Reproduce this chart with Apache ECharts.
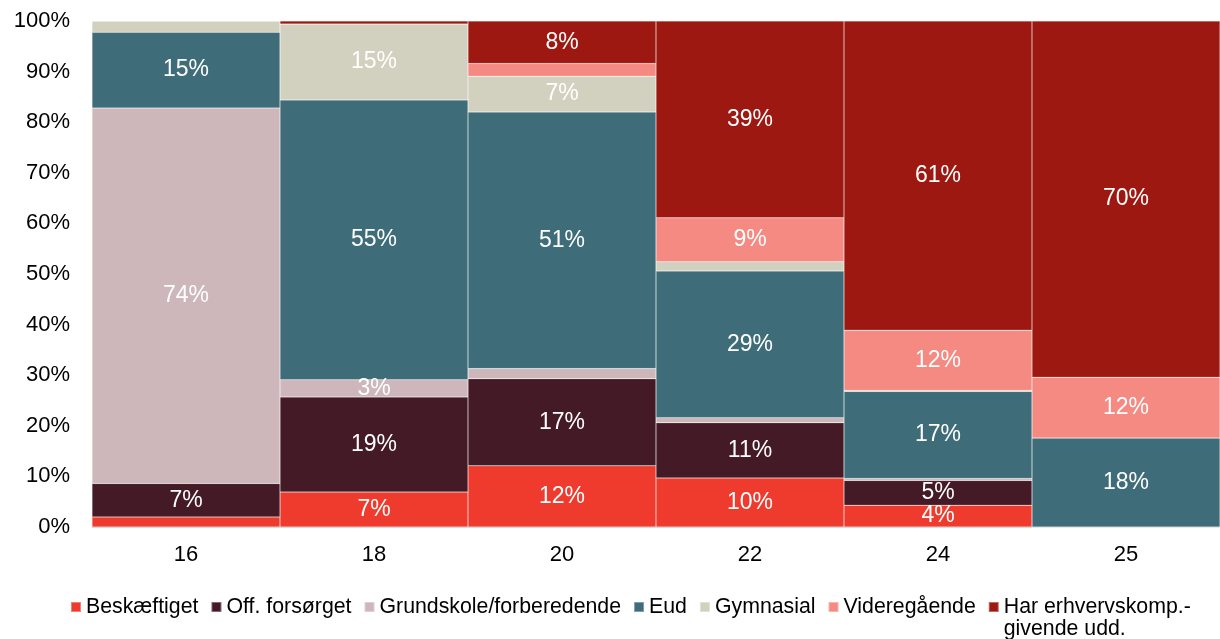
<!DOCTYPE html>
<html>
<head>
<meta charset="utf-8">
<script src="https://cdn.jsdelivr.net/npm/echarts@6/dist/echarts.min.js"></script>
<style>
  html, body { margin: 0; padding: 0; background: #fff; }
  #box { width: 1220px; height: 639px; }
</style>
</head>
<body>
<div id="box"></div>
<script>
var ages = ['16', '18', '20', '22', '24', '25'];
var yTicks = ['0%', '10%', '20%', '30%', '40%', '50%', '60%', '70%', '80%', '90%', '100%'];

var beskaeftiget = [2.0, 6.9, 12.1, 9.7, 4.3, 0];
var offForsorget = [6.6, 18.8, 17.2, 10.9, 4.9, 0];
var grundskole = [74.2, 3.4, 2.0, 1.0, 0.4, 0];
var eud = [15.0, 55.3, 50.7, 29.0, 17.2, 17.6];
var gymnasial = [2.2, 15.0, 7.1, 1.8, 0.2, 0];
var videregaaende = [0, 0, 2.5, 8.7, 11.9, 12.0];
var harErhverv = [0, 0.6, 8.4, 38.9, 61.1, 70.4];

var names = ['Beskæftiget', 'Off. forsørget', 'Grundskole/forberedende', 'Eud', 'Gymnasial', 'Videregående', 'Har erhvervskomp.-givende udd.'];
var colors = ['#EE3B2E', '#431A25', '#CDB7BA', '#3E6C78', '#D2D1BF', '#F48A82', '#9C1810'];
var values = [beskaeftiget, offForsorget, grundskole, eud, gymnasial, videregaaende, harErhverv];

var font = 'Liberation Sans, Arial, sans-serif';

var series = [];
for (var i = 0; i < names.length; i++) {
    series.push({
        name: names[i],
        type: 'bar',
        stack: 'total',
        barWidth: '100%',
        barCategoryGap: 0,
        data: values[i],
        itemStyle: { color: colors[i], borderColor: 'rgba(255,255,255,0.35)', borderWidth: 0.5 },
        label: {
            show: true,
            position: 'inside',
            color: '#fff',
            fontSize: 23,
            fontFamily: font,
            formatter: function (p) {
                return p.value >= 3 ? Math.round(p.value) + '%' : '';
            }
        }
    });
}

var chart = echarts.init(document.getElementById('box'));
chart.setOption({
    animation: false,
    textStyle: { fontFamily: font },
    grid: { left: 92, right: 0, top: 21, bottom: 112 },
    xAxis: {
        type: 'category',
        data: ages,
        axisTick: { show: false },
        axisLine: { show: true, lineStyle: { color: '#d9d9d9', width: 1 } },
        axisLabel: { color: '#000', fontSize: 22, margin: 17 }
    },
    yAxis: {
        type: 'value',
        min: 0,
        max: 100,
        interval: 10,
        splitLine: { show: false },
        axisLine: { show: false },
        axisTick: { show: false },
        axisLabel: {
            color: '#000',
            fontSize: 22,
            margin: 22,
            formatter: function (v) { return yTicks[Math.round(v / 10)]; }
        }
    },
    legend: {
        left: 70,
        top: 574,
        padding: 0,
        itemWidth: 10,
        itemHeight: 10,
        itemGap: 12,
        icon: 'rect',
        textStyle: { color: '#000', fontSize: 21.3, lineHeight: 22 },
        // the last item wraps; an empty first line keeps its first line level with the others
        formatter: function (n) {
            return n === names[6] ? ' \nHar erhvervskomp.-\ngivende udd.' : n;
        },
        data: names
    },
    series: series
});
</script>
</body>
</html>
